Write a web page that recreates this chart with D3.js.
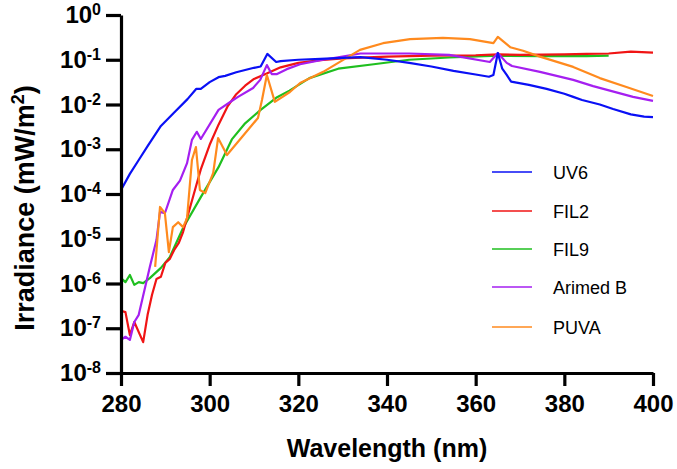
<!DOCTYPE html>
<html><head><meta charset="utf-8">
<script src="https://cdn.jsdelivr.net/npm/d3@7"></script>
<style>body{margin:0;background:#fff}svg{display:block}text{font-family:"Liberation Sans",Arial,sans-serif}</style>
</head><body><svg id="c" width="677" height="469"></svg>
<script>
const seriesNames = ["UV6","FIL2","FIL9","Arimed B","PUVA"];
const seriesColors = ["#0a10f5","#f01414","#1fbf1f","#a51ff0","#ff8a1e"];
// values given as log10(irradiance)
const uv6 = [[280,-3.91],[282,-3.55],[284,-3.24],[286,-2.93],[289,-2.48],[292,-2.18],[295,-1.88],[297,-1.65],[298,-1.65],[300,-1.5],[302,-1.39],[303.5,-1.36],[306,-1.28],[310,-1.18],[311.5,-1.15],[313,-0.87],[315,-1.05],[316,-1.03],[320,-1.0],[325,-0.98],[330,-0.96],[334,-0.94],[340,-1.0],[345,-1.07],[350,-1.15],[355,-1.25],[360,-1.33],[363,-1.38],[364,-1.34],[365,-0.85],[366,-1.2],[367,-1.34],[368,-1.49],[372,-1.56],[376,-1.65],[380,-1.76],[382,-1.83],[384,-1.9],[388,-2.0],[391,-2.1],[395,-2.22],[398,-2.27],[400,-2.28]];
const fil2 = [[280,-6.61],[281,-6.64],[282,-7.15],[283,-6.86],[285,-7.31],[286,-6.7],[287,-6.25],[288,-5.9],[289,-5.85],[290,-5.54],[291,-5.45],[292,-5.25],[293,-5.1],[294,-4.85],[295,-4.5],[296,-4.15],[297,-3.8],[298,-3.45],[300,-2.9],[302,-2.45],[304,-2.05],[306,-1.77],[308,-1.58],[310,-1.43],[313,-1.3],[316,-1.17],[320,-1.07],[325,-1.01],[330,-0.97],[340,-0.93],[350,-0.91],[360,-0.9],[365,-0.88],[370,-0.89],[380,-0.88],[385,-0.87],[390,-0.86],[395,-0.82],[400,-0.84]];
const fil9 = [[280,-5.88],[281,-5.97],[282,-5.81],[283,-6.03],[284,-5.97],[285,-5.99],[286.5,-5.88],[289,-5.65],[291,-5.41],[294,-4.76],[298,-4.07],[302,-3.4],[305,-2.78],[308,-2.42],[311.5,-2.12],[315,-1.85],[318,-1.69],[322.5,-1.41],[329,-1.2],[337,-1.1],[345,-1.0],[354,-0.95],[365,-0.91],[375,-0.92],[385,-0.92],[390,-0.91]];
const arimed = [[280,-7.26],[281,-7.19],[282,-7.26],[283,-6.86],[284,-6.7],[286.5,-5.63],[288,-5.03],[288.8,-4.4],[289.9,-4.43],[291.7,-3.91],[293.3,-3.7],[294.9,-3.31],[296,-2.79],[297.1,-2.61],[298,-2.77],[302,-2.12],[305.3,-1.9],[306.4,-1.83],[309.8,-1.63],[311.4,-1.45],[312.9,-1.12],[314,-1.32],[315.2,-1.32],[317.4,-1.21],[320.4,-1.1],[325.6,-1.0],[334,-0.86],[345,-0.86],[354,-0.89],[363.2,-1.05],[365,-0.85],[367,-1.07],[368.2,-1.14],[374.5,-1.27],[382,-1.45],[386.5,-1.59],[395.5,-1.83],[400,-1.92]];
const puva = [[287.7,-5.63],[288.8,-4.29],[289.9,-4.43],[290.8,-5.3],[291.7,-4.74],[292.9,-4.63],[294,-4.74],[294.9,-4.54],[296,-3.24],[296.9,-2.95],[297.8,-3.91],[299,-3.98],[300.8,-3.53],[301.9,-2.75],[303.9,-3.13],[310.9,-2.3],[311.8,-1.9],[312.9,-1.34],[314.7,-1.94],[318.1,-1.72],[320.4,-1.52],[325.6,-1.27],[333.9,-0.78],[339.1,-0.63],[345.2,-0.54],[352.6,-0.51],[358.7,-0.54],[364,-0.63],[365,-0.49],[367.8,-0.72],[370.7,-0.8],[374.5,-0.93],[382,-1.16],[388,-1.41],[394,-1.61],[400,-1.81]];
const seriesData = [uv6, fil2, fil9, arimed, puva];
const xTicks = [280,300,320,340,360,380,400];
const yExps = [0,-1,-2,-3,-4,-5,-6,-7,-8];

const svg = d3.select("#c");
const x = d3.scaleLinear().domain([280,400]).range([121,653]);
const y = d3.scaleLog().domain([1e-8,1]).range([373,15]);

const line = d3.line().x(d=>x(d[0])).y(d=>y(Math.pow(10,d[1])));
const drawOrder = [2,1,3,4,0];
drawOrder.forEach(i=>{
  svg.append("path").datum(seriesData[i]).attr("d",line)
    .attr("fill","none").attr("stroke",seriesColors[i]).attr("stroke-width",2.2)
    .attr("stroke-linejoin","round");
});

// axes
const xAxis = svg.append("g").attr("transform","translate(0,373)")
  .call(d3.axisBottom(x).tickValues(xTicks).tickSize(13).tickSizeOuter(0).tickPadding(9));
const yAxis = svg.append("g").attr("transform","translate(121,0)")
  .call(d3.axisLeft(y).tickValues(yExps.map(e=>Math.pow(10,e))).tickSize(15).tickSizeOuter(0).tickFormat(""));
[xAxis,yAxis].forEach(g=>{
  g.select(".domain").attr("stroke","#000").attr("stroke-width",3.2);
  g.selectAll(".tick line").attr("stroke","#000").attr("stroke-width",3.2);
});
xAxis.selectAll(".tick text").attr("font-size",24).attr("font-weight","bold").attr("fill","#000")
  .attr("font-family","'Liberation Sans',Arial,sans-serif");

// y tick labels with superscripts
yExps.forEach(e=>{
  const t = svg.append("text").attr("x",101).attr("y",y(Math.pow(10,e))+8)
    .attr("text-anchor","end").attr("font-size",24).attr("font-weight","bold");
  t.append("tspan").text("10");
  t.append("tspan").attr("dy",-8).attr("font-size",16).text(String(e));
});

// axis titles
svg.append("text").attr("x",387).attr("y",457).attr("text-anchor","middle")
  .attr("font-size",25).attr("font-weight","bold").text("Wavelength (nm)");
const yt = svg.append("text").attr("transform","translate(34,208) rotate(-90)")
  .attr("text-anchor","middle").attr("font-size",27).attr("font-weight","bold");
yt.append("tspan").text("Irradiance (mW/m");
yt.append("tspan").attr("dy",-10).attr("font-size",18).text("2");
yt.append("tspan").attr("dy",10).text(")");

// legend
const legY = [172,211,249,287,327];
seriesNames.forEach((n,i)=>{
  svg.append("line").attr("x1",492).attr("x2",532).attr("y1",legY[i]).attr("y2",legY[i])
    .attr("stroke",seriesColors[i]).attr("stroke-width",1.6);
  svg.append("text").attr("x",553).attr("y",legY[i]+6.5).attr("font-size",18).text(n);
});
</script></body></html>
